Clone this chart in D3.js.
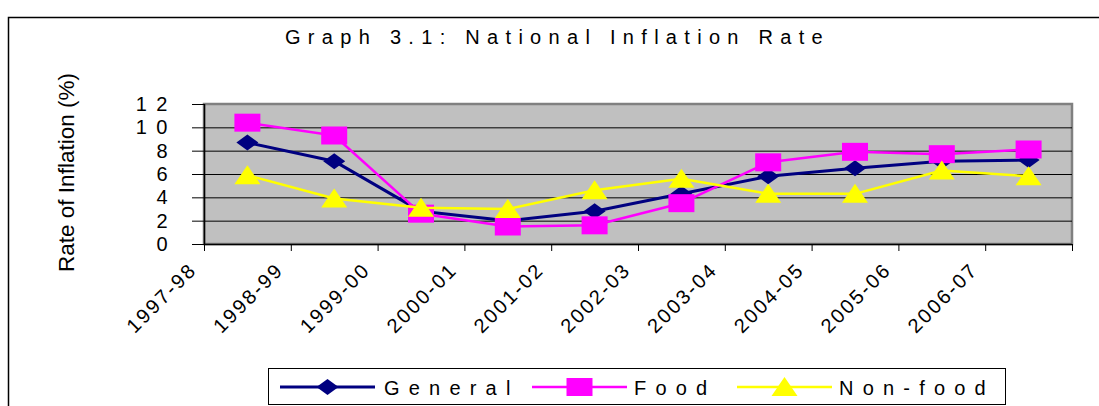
<!DOCTYPE html>
<html>
<head>
<meta charset="utf-8">
<script src="https://cdn.jsdelivr.net/npm/d3@7"></script>
<style>
  html, body { margin: 0; padding: 0; background: #fff; }
  svg { display: block; font-family: "Liberation Sans", Arial, sans-serif; }
</style>
</head>
<body>
<svg id="chart" width="1099" height="406"></svg>
<script>
const categories = ["1997-98","1998-99","1999-00","2000-01","2001-02","2002-03","2003-04","2004-05","2005-06","2006-07"];
const general = [8.7, 7.1, 2.8, 2.0, 2.8, 4.3, 5.8, 6.5, 7.1, 7.2];
const food    = [10.4, 9.3, 2.6, 1.5, 1.6, 3.5, 7.0, 7.9, 7.7, 8.1];
const nonFood = [5.9, 3.9, 3.1, 3.0, 4.6, 5.6, 4.3, 4.3, 6.3, 5.8];
const yTicks = [0, 2, 4, 6, 8, 10, 12];
const seriesNames = ["General", "Food", "Non-food"];
const titleText = "Graph 3.1: National Inflation Rate";
const yTitle = "Rate of Inflation (%)";

const svg = d3.select("#chart");
const plot = { left: 204, right: 1072, top: 104, bottom: 244 };

// outer frame
svg.append("rect").attr("x", 8.5).attr("y", 17.5).attr("width", 1200).attr("height", 500)
  .attr("fill", "#fff").attr("stroke", "#000").attr("stroke-width", 1.5);

const x = d3.scaleBand().domain(categories).range([plot.left, plot.right]).paddingInner(0).paddingOuter(0);
const y = d3.scaleLinear().domain([0, 12]).range([plot.bottom, plot.top]);

// plot background
svg.append("rect").attr("x", plot.left).attr("y", plot.top)
  .attr("width", plot.right - plot.left).attr("height", plot.bottom - plot.top)
  .attr("fill", "#c0c0c0").attr("stroke", "#808080").attr("stroke-width", 2.5);

// gridlines
svg.append("g").selectAll("line").data(yTicks.filter(d => d > 0 && d < 12)).join("line")
  .attr("x1", plot.left).attr("x2", plot.right)
  .attr("y1", d => y(d) + 0.5).attr("y2", d => y(d) + 0.5)
  .attr("stroke", "#000").attr("stroke-width", 1);

// y axis
const yAxis = svg.append("g").attr("transform", `translate(${plot.left},0)`)
  .call(d3.axisLeft(y).tickValues(yTicks).tickSize(12).tickPadding(0).tickFormat(d3.format("d")));
yAxis.select(".domain").attr("stroke", "#000").attr("stroke-width", 1.5).attr("d", `M0.5,${plot.top}V${plot.bottom}`);
yAxis.selectAll(".tick line").attr("stroke", "#000");
yAxis.selectAll(".tick text").attr("x", -27).attr("font-size", 20).attr("letter-spacing", "9.5px")
  .attr("font-family", "Liberation Sans, Arial, sans-serif").attr("fill", "#000");

// x axis
const boundaries = categories.map(c => x(c)).concat([plot.right]);
const xAxisG = svg.append("g");
xAxisG.append("line").attr("x1", plot.left).attr("x2", plot.right)
  .attr("y1", plot.bottom + 0.5).attr("y2", plot.bottom + 0.5).attr("stroke", "#000").attr("stroke-width", 1.5);
xAxisG.selectAll("line.tk").data(boundaries).join("line").attr("class", "tk")
  .attr("x1", d => d + 0.5).attr("x2", d => d + 0.5)
  .attr("y1", plot.bottom).attr("y2", plot.bottom + 7).attr("stroke", "#000");
xAxisG.selectAll("text").data(categories).join("text")
  .attr("transform", c => `translate(${x(c) - 6},${plot.bottom + 27}) rotate(-45)`)
  .attr("text-anchor", "end").attr("font-size", 20).attr("letter-spacing", "2.3px")
  .attr("fill", "#000").text(c => c);

// series
const seriesData = [
  { name: seriesNames[0], values: general, color: "#000080", width: 3, marker: "diamond" },
  { name: seriesNames[1], values: food, color: "#ff00ff", width: 2.5, marker: "square" },
  { name: seriesNames[2], values: nonFood, color: "#ffff00", width: 2.5, marker: "triangle" }
];

function markerPath(type) {
  if (type === "diamond") return "M-11,0L0,-8L11,0L0,8Z";
  if (type === "square") return "M-13,-9H13V9H-13Z";
  return "M0,-10L13,9H-13Z";
}

const cx = c => x(c) + x.bandwidth() / 2;
const line = d3.line().x((d, i) => cx(categories[i])).y(d => y(d));

seriesData.forEach(s => {
  const g = svg.append("g");
  g.append("path").attr("d", line(s.values)).attr("fill", "none")
    .attr("stroke", s.color).attr("stroke-width", s.width).attr("stroke-linejoin", "round");
  g.selectAll("path.m").data(s.values).join("path").attr("class", "m")
    .attr("transform", (d, i) => `translate(${cx(categories[i])},${y(d)})`)
    .attr("d", markerPath(s.marker)).attr("fill", s.color);
});

// title
svg.append("text").attr("x", 285).attr("y", 44).attr("font-size", 20).attr("letter-spacing", "7.3px")
  .attr("fill", "#000").text(titleText);

// y title
svg.append("text").attr("transform", "translate(74,172.5) rotate(-90)").attr("text-anchor", "middle")
  .attr("font-size", 22.5).attr("fill", "#000").text(yTitle);

// legend
svg.append("rect").attr("x", 268.5).attr("y", 368.5).attr("width", 737).attr("height", 36)
  .attr("fill", "#fff").attr("stroke", "#000").attr("stroke-width", 1);
const legendPos = [
  { lx1: 280, lx2: 375, tx: 384 },
  { lx1: 532, lx2: 627, tx: 634 },
  { lx1: 737, lx2: 832, tx: 839 }
];
seriesData.forEach((s, i) => {
  const p = legendPos[i];
  const ly = 387;
  svg.append("line").attr("x1", p.lx1).attr("x2", p.lx2).attr("y1", ly).attr("y2", ly)
    .attr("stroke", s.color).attr("stroke-width", s.width);
  svg.append("path").attr("transform", `translate(${(p.lx1 + p.lx2) / 2},${ly})`)
    .attr("d", markerPath(s.marker)).attr("fill", s.color);
  svg.append("text").attr("x", p.tx).attr("y", 395).attr("font-size", 20).attr("letter-spacing", "9.2px")
    .attr("fill", "#000").text(s.name);
});
</script>
</body>
</html>
